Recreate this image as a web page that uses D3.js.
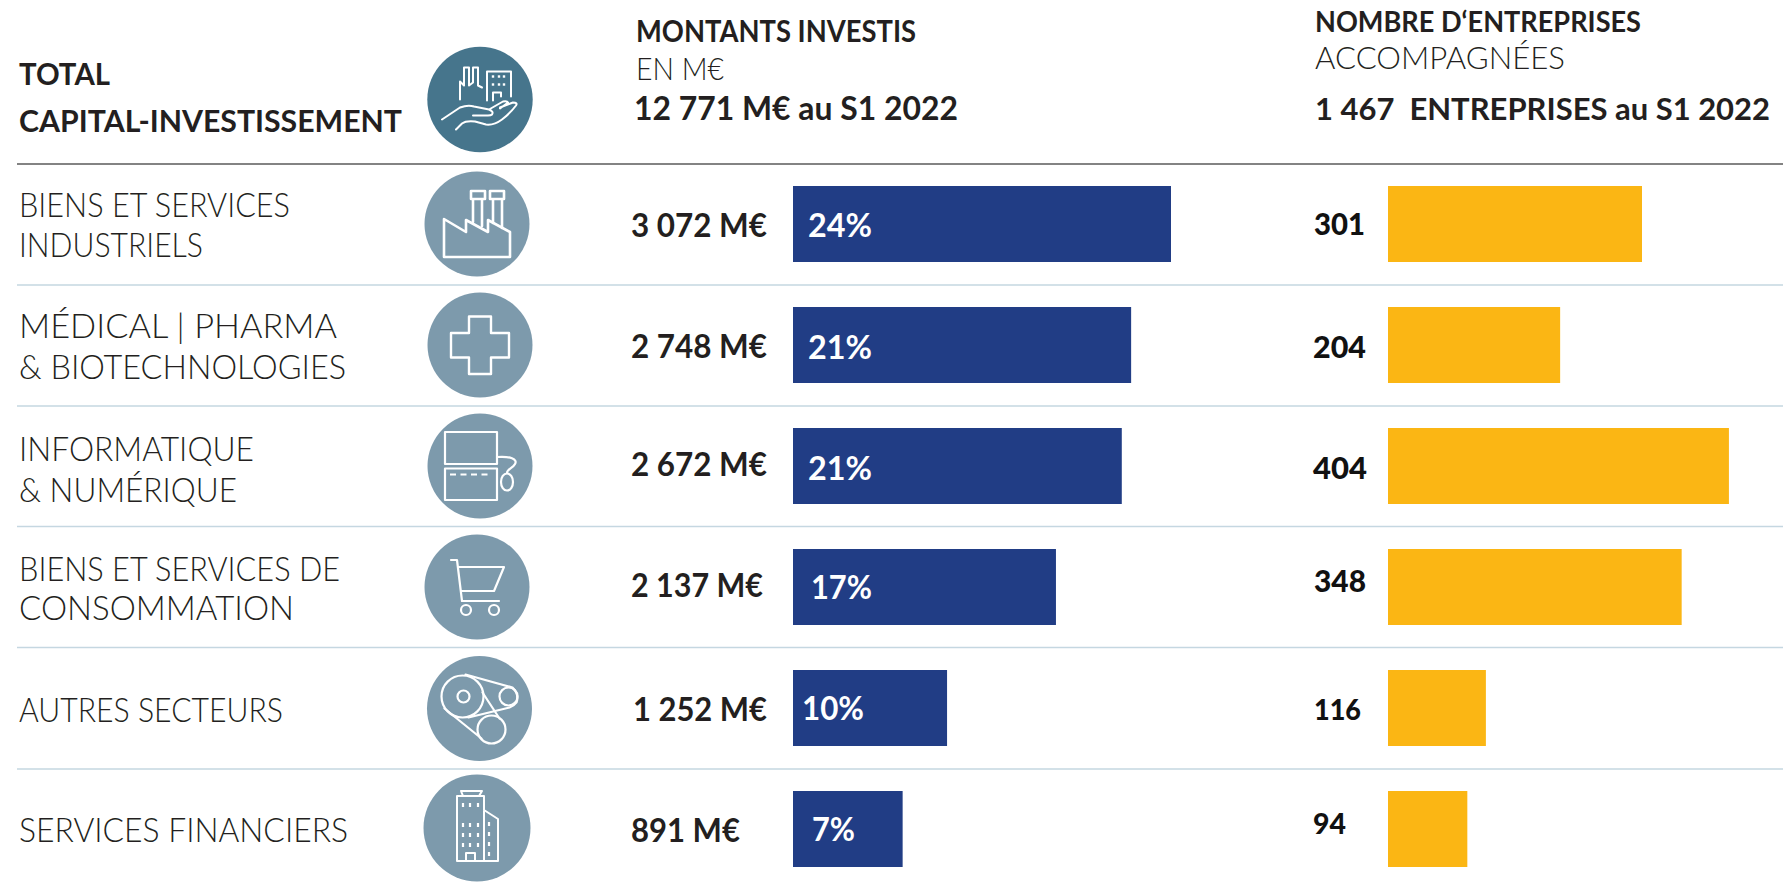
<!DOCTYPE html>
<html><head><meta charset="utf-8">
<script src="https://cdn.jsdelivr.net/npm/d3@7"></script>
<style>html,body{margin:0;padding:0;background:#fff;overflow:hidden}svg{display:block}text{font-family:Lato,"Open Sans",sans-serif;fill:#231f20}</style>
</head><body><svg id="c" width="1783" height="885"></svg>
<script>
// ---- data
const sectors = ["BIENS ET SERVICES INDUSTRIELS","MÉDICAL | PHARMA & BIOTECHNOLOGIES","INFORMATIQUE & NUMÉRIQUE","BIENS ET SERVICES DE CONSOMMATION","AUTRES SECTEURS","SERVICES FINANCIERS"];
const sectorLines = [["BIENS ET SERVICES","INDUSTRIELS"],["MÉDICAL | PHARMA","& BIOTECHNOLOGIES"],["INFORMATIQUE","& NUMÉRIQUE"],["BIENS ET SERVICES DE","CONSOMMATION"],["AUTRES SECTEURS"],["SERVICES FINANCIERS"]];
const amounts = [3072,2748,2672,2137,1252,891];
const shares = [24,21,21,17,10,7];
const companies = [301,204,404,348,116,94];

// ---- layout (text boxes: x, baseline, right end)
const labelBoxes = [[[19,216.5,290],[19,256.5,203]],[[19,338,337],[19,379,346]],[[19,461,254],[19,502,237]],[[19,581,340],[19,620,294]],[[19,721.5,283]],[[19,842,348]]];
const amountBoxes = [[631,237,767],[631,358,767],[631,476,767],[631,597,763],[633,721,767],[631,842,740]];
const shareBoxes = [[808,237,872],[808,359,872],[808,480,872],[811,599,872],[802,720,864],[812,841,855]];
const countBoxes = [[1314,235,1365],[1313,358,1366],[1313,479,1367],[1314,592,1366],[1314,720,1361],[1313,834,1346]];
const iconCentres = [[477,224],[480,345],[480,466],[477,587],[479.5,708.5],[477,828]];
const rowRules = [285,406,526.5,647.5,769];

const svg = d3.select("#c");
const fr = d3.formatLocale({decimal:",",thousands:" ",grouping:[3],currency:["","€"]}).format(",d");

const y = d3.scaleBand().domain(sectors).range([163.5,163.5+6*121]).paddingInner(45/121).paddingOuter(22.5/121);
const xAmount = d3.scaleLinear().domain([0,3072]).range([793,1171]);
const xCount = d3.scaleLinear().domain([0,301]).range([1388,1642]);

function put(g,str,box,size,weight,fill){
  return g.append("text").attr("x",box[0]).attr("y",box[1])
    .attr("font-size",size).attr("font-weight",weight).attr("fill",fill||"#231f20").style("fill",fill||"#231f20")
    .attr("textLength",box[2]-box[0]).attr("lengthAdjust","spacingAndGlyphs").text(str);
}

// rules
svg.append("line").attr("x1",17).attr("x2",1783).attr("y1",164).attr("y2",164).attr("stroke","#5a5a5a").attr("stroke-width",1.6);
svg.selectAll(".rule").data(rowRules).join("line").attr("class","rule").attr("x1",17).attr("x2",1783)
  .attr("y1",d=>d).attr("y2",d=>d).attr("stroke","#c5d7e1").attr("stroke-width",1.6);

// header
const h = svg.append("g");
put(h,"TOTAL",[19,85,110],31,700);
put(h,"CAPITAL-INVESTISSEMENT",[19,132,402],31,700);
put(h,"MONTANTS INVESTIS",[636,42,916],30,700);
put(h,"EN M€",[636,80,724],31,300);
put(h,"12 771 M€ au S1 2022",[634,120,958],32,700);
put(h,"NOMBRE D‘ENTREPRISES",[1315,32,1641],28,700);
put(h,"ACCOMPAGNÉES",[1315,69,1565],31,300);
put(h,"1 467  ENTREPRISES au S1 2022",[1315,120,1770],31,700).style("white-space","pre");

// bars
svg.selectAll(".amt").data(sectors).join("rect").attr("class","amt")
  .attr("x",xAmount(0)).attr("y",d=>y(d)).attr("height",y.bandwidth())
  .attr("width",(d,i)=>xAmount(amounts[i])-xAmount(0)).attr("fill","#213d85");
svg.selectAll(".cnt").data(sectors).join("rect").attr("class","cnt")
  .attr("x",xCount(0)).attr("y",d=>y(d)).attr("height",y.bandwidth())
  .attr("width",(d,i)=>xCount(companies[i])-xCount(0)).attr("fill","#fbb614");

// row text
const t = svg.append("g");
sectorLines.forEach((ls,i)=>{
  ls.forEach((l,j)=>put(t,l,labelBoxes[i][j],33,300));
  put(t,fr(amounts[i])+" M€",amountBoxes[i],32,700);
  put(t,shares[i]+"%",shareBoxes[i],32,700,"#ffffff");
  put(t,String(companies[i]),countBoxes[i],i>3?28:31,900,"#111");
});

// icons (local coordinates around each disc centre)
function disc(c,r,fill){
  const g = svg.append("g").attr("transform",`translate(${c[0]},${c[1]})`);
  g.append("circle").attr("r",r).attr("fill",fill);
  return g.append("g").attr("fill","none").attr("stroke","#fff").attr("stroke-width",2).attr("stroke-linejoin","round").attr("stroke-linecap","round");
}
function windows(g,pts,w,hh){pts.forEach(p=>g.append("rect").attr("x",p[0]-w/2).attr("y",p[1]-hh/2).attr("width",w).attr("height",hh).attr("fill","#fff").attr("stroke","none"));}

// header icon
(function(){
  const g = disc([480,99.5],52.7,"#46758c");
  g.append("path").attr("d","M-20,0V-18L-16,-14V-32H-11V-14L-7,-17V-32H-2V-14L2,-12");
  g.append("path").attr("d","M7,1V-28H31V-3M13,1V-7H21V-3");
  const w=[];[13,19,24].forEach(x=>[-23,-15].forEach(yy=>w.push([x,yy])));
  windows(g,w,2.4,2.4);
  g.append("path").attr("d","M-38,20L-20,8Q-12,5,-6,7L9,10Q14,12,12,15Q11,16,8,16H-7M9,10L23,2Q27,1,28,3L20,9M20,8L33,3Q38,3,36,6Q30,14,22,20Q14,26,6,25L-5,22Q-14,21,-18,24L-24,30");
})();
// factory
(function(){
  const g = disc(iconCentres[0],52.5,"#7d9aac");
  g.attr("stroke-width",2.6);
  g.append("path").attr("d","M-33,-5L-11,8V-4L11,8V-4L33,8V33H-33Z");
  g.append("path").attr("d","M-6,-33H8V-25H-6ZM13,-33H27V-25H13ZM-4,-25V-2M5,-25V2M16,-25V-1M25,-25V4");
})();
// cross
(function(){
  const g = disc(iconCentres[1],52.5,"#7d9aac");
  g.attr("stroke-width",2.4);
  g.append("path").attr("d","M-11,-28.5H11V-12H29V12.5H11V29H-11V12.5H-29V-12H-11Z");
})();
// computer
(function(){
  const g = disc(iconCentres[2],52.5,"#7d9aac");
  g.attr("stroke-width",2.2);
  g.append("rect").attr("x",-35).attr("y",-34).attr("width",52).attr("height",32);
  g.append("rect").attr("x",-35).attr("y",2.5).attr("width",52).attr("height",31.5);
  g.append("path").attr("d","M-30,8.5H10").attr("stroke-dasharray","6 4.5").attr("stroke-linecap","butt");
  g.append("path").attr("d","M17,-9C30,-10,38,-7,35,-2C33,2,27,3,27,7");
  g.append("ellipse").attr("cx",27).attr("cy",16).attr("rx",6).attr("ry",8.5);
})();
// cart
(function(){
  const g = disc(iconCentres[3],52.5,"#7d9aac");
  g.attr("stroke-width",2.2);
  g.append("path").attr("d","M-26,-27H-20L-15,14H22");
  g.append("path").attr("d","M-19,-20H27L17,4H-16");
  g.append("circle").attr("cx",-11).attr("cy",23).attr("r",5);
  g.append("circle").attr("cx",17).attr("cy",23).attr("r",5);
})();
// belt
(function(){
  const g = disc(iconCentres[4],52.5,"#7d9aac");
  g.attr("stroke-width",2.2);
  g.append("circle").attr("cx",-17).attr("cy",-12).attr("r",21);
  g.append("circle").attr("cx",-16).attr("cy",-12).attr("r",6);
  g.append("circle").attr("cx",29).attr("cy",-12).attr("r",9);
  g.append("circle").attr("cx",12).attr("cy",21).attr("r",14);
  g.append("path").attr("d","M-14,-34L33,-21Q40,-14,37,-6Q35,-3,30,-1L-11,9M-35,0L2,30M3,-16L20,10");
})();
// tower
(function(){
  const g = disc(iconCentres[5],53.5,"#7d9aac");
  g.attr("stroke-width",2);
  g.append("path").attr("d","M-20,33V-32H7V33M-20,33H21V-9L7,-18");
  g.append("path").attr("d","M-16,-37H5L2,-32H-14Z");
  g.append("path").attr("d","M-11,33V25H-2V33");
  const w=[];
  [-14,-7,1].forEach(x=>[-23,-3,7,17].forEach(yy=>w.push([x,yy])));
  [12].forEach(x=>[-4,6,16,26].forEach(yy=>w.push([x,yy])));
  windows(g,w,2.2,4);
})();
</script></body></html>
